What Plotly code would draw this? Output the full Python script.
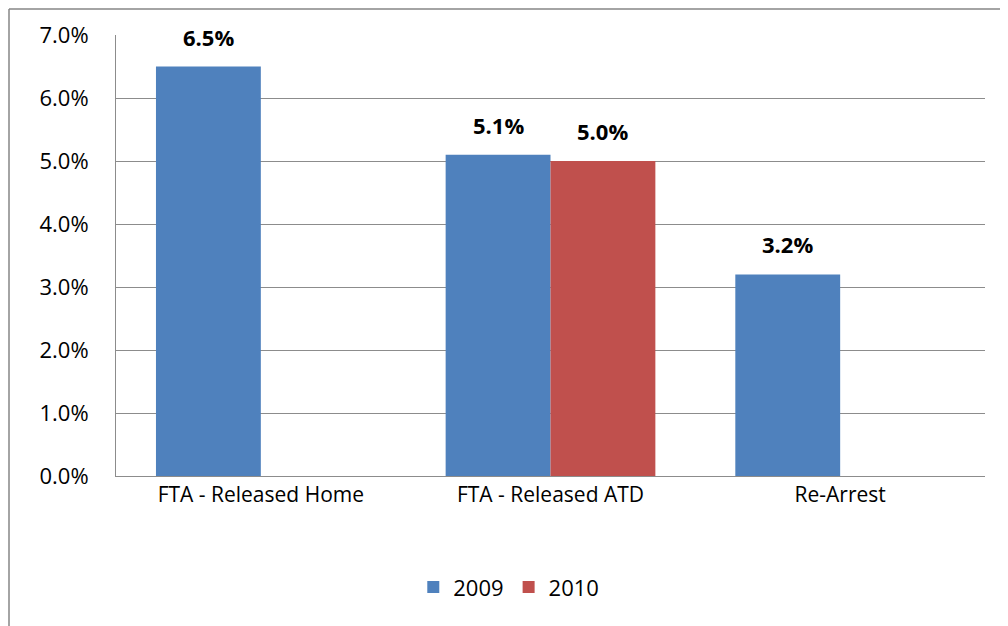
import plotly.graph_objects as go

categories = ["FTA - Released Home", "FTA - Released ATD", "Re-Arrest"]
series_names = ["2009", "2010"]
values_2009 = [0.065, 0.051, 0.032]
values_2010 = [None, 0.050, None]
colors = ["#4F81BD", "#C0504D"]

font_family = "Open Sans, Lato, sans-serif"
L, R, T, B = 108, 31, 27, 158
W, H = 1008, 626
BARGAP = 0.276
plot_w = W - L - R
plot_h = H - T - B

fig = go.Figure()
all_values = [values_2009, values_2010]
for name, vals, col in zip(series_names, all_values, colors):
    fig.add_trace(go.Bar(name=name, x=categories, y=vals, marker_color=col,
                         marker_line_width=0))

# data labels above bars
bar_px = plot_w / len(categories) * (1 - BARGAP) / len(series_names)
annotations = []
for i, vals in enumerate(all_values):
    shift = (i - (len(series_names) - 1) / 2) * bar_px
    for cat, v in zip(categories, vals):
        if v is None:
            continue
        annotations.append(dict(x=cat, y=v, xref="x", yref="y", text=f"<b>{v*100:.1f}%</b>",
                                showarrow=False, xshift=shift, yshift=13, yanchor="bottom",
                                font=dict(size=22, family=font_family, color="black")))

fig.update_layout(
    width=W, height=H,
    barmode="group", bargap=BARGAP, bargroupgap=0,
    plot_bgcolor="white", paper_bgcolor="white",
    margin=dict(l=L, r=R, t=T, b=B),
    font=dict(family=font_family, size=21, color="black"),
    showlegend=True,
    legend=dict(orientation="h", x=0.452, xanchor="center", y=-0.252, yanchor="middle",
                font=dict(size=22), traceorder="normal"),
    annotations=annotations,
    shapes=[
        dict(type="line", xref="paper", yref="paper",
             x0=(1 - L) / plot_w, x1=(1 - L) / plot_w, y0=-0.5, y1=(plot_h + T - 1) / plot_h,
             line=dict(color="#868686", width=1.5)),
        dict(type="line", xref="paper", yref="paper",
             x0=(1 - L) / plot_w, x1=1.1, y0=(plot_h + T - 1) / plot_h, y1=(plot_h + T - 1) / plot_h,
             line=dict(color="#868686", width=1.5)),
    ],
)
fig.update_yaxes(range=[0, 0.07], dtick=0.01, tickformat=".1%", showgrid=True, gridcolor="#8C8C8C",
                 gridwidth=1, showline=True, linecolor="#8C8C8C", linewidth=1, zeroline=False,
                 ticklabelstandoff=22, tickfont=dict(size=22))
fig.update_xaxes(showline=True, linecolor="#8C8C8C", linewidth=1, showgrid=False,
                 ticklabelstandoff=0, tickfont=dict(size=21))

fig.write_html("out.html")
